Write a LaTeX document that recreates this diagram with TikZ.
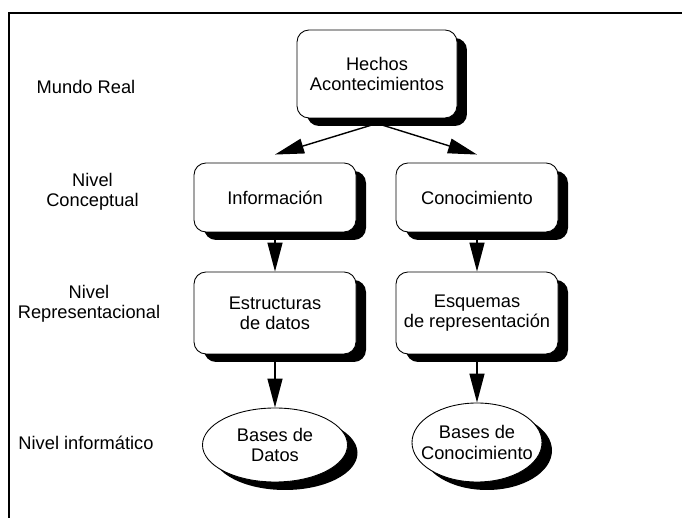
\documentclass[tikz,border=0pt]{standalone}
\usepackage{fontspec}
\setmainfont{Liberation Sans}
\usetikzlibrary{arrows.meta,shapes.geometric,shadows}
\begin{document}
\begin{tikzpicture}[
        font=\fontsize{10.4}{11.5}\selectfont,
        sombra/.style={drop shadow={shadow xshift=0.2cm, shadow yshift=-0.16cm, fill=black, opacity=1}},
        caja/.style={draw, sombra, fill=white, rounded corners=0.24cm, align=center, minimum width=3.24cm, line width=0.5pt},
        elipse/.style={draw, sombra, ellipse, fill=white, align=center, inner xsep=-0.45cm, inner ysep=0pt, line width=0.5pt},
        nivel/.style={align=center},
        flecha/.style={-{Triangle[length=0.58cm, width=0.3cm]}, line width=0.8pt}
    ]
        \useasboundingbox (0,0) rectangle (13.64,10.36);

        % Draw frame
        \draw[line width=1pt] (0.18,0) -- (0.18,10.1) -- (13.64,10.1);

        % Levels on the left
        \node[nivel] (real) at (1.72, 8.62) {Mundo Real};
        \node[nivel] (concep) at (1.85, 6.52) {Nivel\\Conceptual};
        \node[nivel] (repre) at (1.78, 4.28) {Nivel\\Representacional};
        \node[nivel] (infor) at (1.72, 1.5) {Nivel informático};

        % Boxes
        \node[caja, minimum width=3.2cm, minimum height=1.76cm] (hechos) at (7.54, 8.88) {Hechos\\Acontecimientos};
        \node[caja, minimum height=1.38cm] (info) at (5.5, 6.41) {Información};
        \node[caja, minimum height=1.38cm] (cono) at (9.54, 6.41) {Conocimiento};
        \node[caja, minimum height=1.64cm] (estr) at (5.5, 4.1) {Estructuras\\de datos};
        \node[caja, minimum height=1.64cm] (esq) at (9.54, 4.1) {Esquemas\\de representación};

        % Ellipses
        \node[elipse, minimum width=2.9cm, minimum height=1.48cm] (bdatos) at (5.5, 1.46) {Bases de\\Datos};
        \node[elipse, minimum width=2.6cm, minimum height=1.58cm] (bcono) at (9.54, 1.51) {Bases de\\Conocimiento};

        % Arrows
        \draw[flecha] ([yshift=-0.1cm]hechos.south) -- ([yshift=0.16cm]info.north);
        \draw[flecha] ([yshift=-0.1cm]hechos.south) -- ([yshift=0.16cm]cono.north);
        \draw[flecha] (info.south) -- (estr.north);
        \draw[flecha] (cono.south) -- (esq.north);
        \draw[flecha] (estr.south) -- (bdatos.north);
        \draw[flecha] (esq.south) -- (bcono.north);

    \end{tikzpicture}
\end{document}
